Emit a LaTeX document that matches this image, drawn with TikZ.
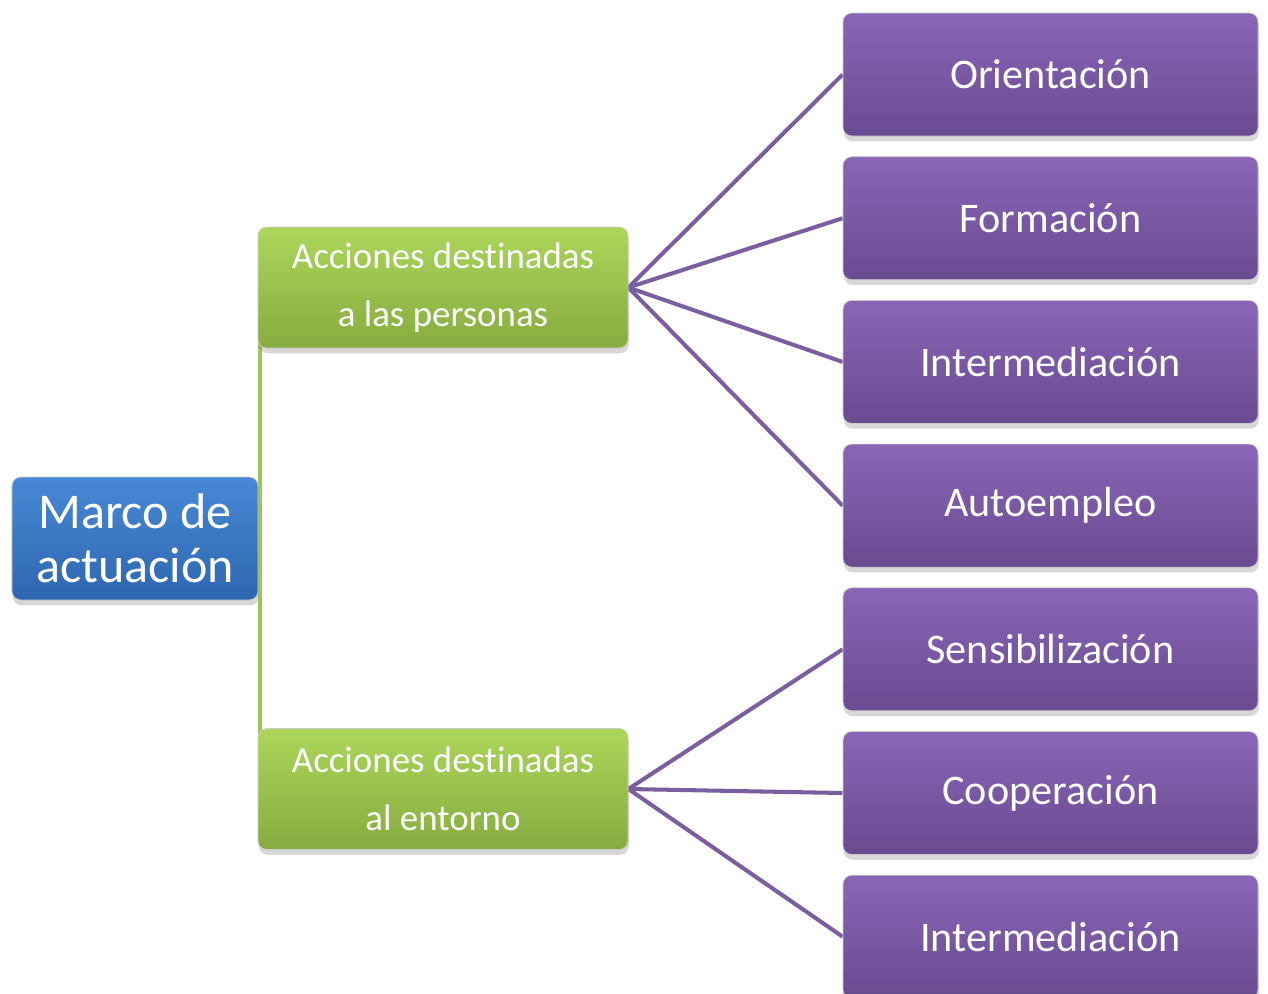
\documentclass[tikz,border=0pt]{standalone}
\usepackage{fontspec}
\setmainfont[Ligatures=CommonOff]{Carlito}
\usetikzlibrary{positioning}
\usetikzlibrary{shadows}
\usetikzlibrary{backgrounds}
\definecolor{roottop}{RGB}{72, 137, 214}
\definecolor{rootbot}{RGB}{46, 102, 176}
\definecolor{grouptop}{RGB}{172, 214, 90}
\definecolor{groupbot}{RGB}{134, 172, 64}
\definecolor{itemtop}{RGB}{137, 101, 183}
\definecolor{itembot}{RGB}{105, 75, 145}
\definecolor{itemline}{RGB}{123, 94, 160}
\definecolor{groupline}{RGB}{158, 198, 84}
\tikzstyle{basebox} = [
	rounded corners=5pt,
	draw=black!20,
	line width=0.4pt,
	text=white,
	align=center,
	inner sep=0pt,
	drop shadow={opacity=0.3, shadow xshift=0.5pt, shadow yshift=-3pt}
]
\tikzstyle{rootbox} = [
	basebox,
	top color=roottop,
	bottom color=rootbot,
	minimum width=4.92cm,
	minimum height=2.46cm,
	font=\fontsize{28.5}{31}\selectfont
]
\tikzstyle{groupbox} = [
	basebox,
	top color=grouptop,
	bottom color=groupbot,
	minimum width=7.4cm,
	minimum height=2.42cm,
	font=\fontsize{21}{33}\selectfont
]
\tikzstyle{itembox} = [
	basebox,
	top color=itemtop,
	bottom color=itembot,
	minimum width=8.3cm,
	minimum height=2.46cm,
	font=\fontsize{24}{29}\selectfont
]
\tikzstyle{grouplink} = [
	draw=groupline,
	line width=1.9pt
]
\tikzstyle{itemlink} = [
	draw=itemline,
	line width=2.3pt
]

\begin{document}
\begin{tikzpicture}[node distance=0.4cm and 0cm]
	\useasboundingbox (0,0) rectangle (25.36,-19.88);

	%
	% Root and groups
	\node[rootbox] at (2.7,-10.77) (marco) {Marco de\\actuación};
	\node[groupbox] at (8.86,-5.75) (personas) {Acciones destinadas\\a las personas};
	\node[groupbox] at (8.86,-15.78) (entorno) {Acciones destinadas\\al entorno};

	%
	% Items
	\node[itembox] at (21.01,-1.49) (orient) {Orientación};
	\node[itembox, below=of orient] (formac) {Formación};
	\node[itembox, below=of formac] (interm) {Intermediación};
	\node[itembox, below=of interm] (autoem) {Autoempleo};
	\node[itembox, below=of autoem] (sensib) {Sensibilización};
	\node[itembox, below=of sensib] (cooper) {Cooperación};
	\node[itembox, below=of cooper] (intermb) {Intermediación};

	%
	% Links
	\begin{scope}[on background layer]
		\fill[white] (0,0) rectangle (25.36,-19.88);

		\draw[grouplink] ([xshift=1pt]marco.east) |- (personas.west);
		\draw[grouplink] ([xshift=1pt]marco.east) |- (entorno.west);

		\foreach \item in {orient, formac, interm, autoem}
			\draw[itemlink] (personas.east) -- (\item.west);
		\foreach \item in {sensib, cooper, intermb}
			\draw[itemlink] (entorno.east) -- (\item.west);
	\end{scope}

\end{tikzpicture}
\end{document}
